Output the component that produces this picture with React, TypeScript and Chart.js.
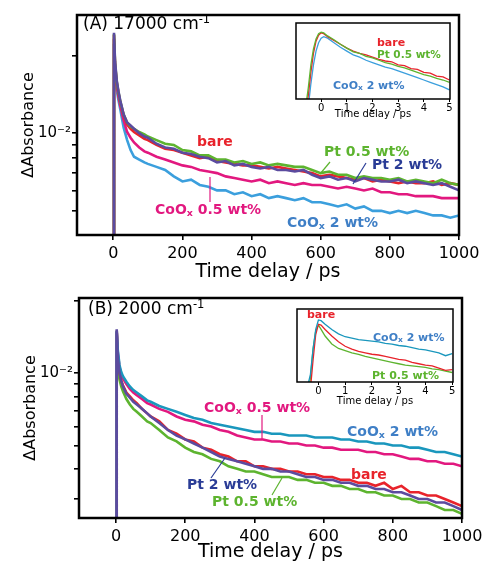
import React, { useEffect, useRef } from 'react';
import { Chart, registerables } from 'chart.js';

Chart.register(...registerables);

const FONT = '"DejaVu Sans", "Liberation Sans", Arial, sans-serif';

// ---------------- data: main panels ----------------
const delayPs = [0, 2, 5, 10, 15, 20, 30, 40, 50, 60, 75, 90,
  100, 125, 150, 175, 200, 225, 250, 275, 300, 325, 350, 375, 400, 425, 450, 475, 500,
  525, 550, 575, 600, 625, 650, 675, 700, 725, 750, 775, 800, 825, 850, 875, 900, 925, 950, 975, 1000];
const xTicksPs = [0, 200, 400, 600, 800, 1000];
const yTicksA = [0.005, 0.006, 0.007, 0.008, 0.009, 0.01, 0.02];
const yTicksB = [0.003, 0.004, 0.005, 0.006, 0.007, 0.008, 0.009, 0.01, 0.02];

// (A) 17000 cm-1
const aPt2 = [0.002, 0.0245, 0.019, 0.016, 0.0145, 0.0134, 0.0118, 0.011, 0.0107, 0.0104, 0.01, 0.0097,
  0.0096, 0.0091, 0.0088, 0.0087, 0.0084, 0.0083, 0.0081, 0.008, 0.0077, 0.0078, 0.0075, 0.0076, 0.0074,
  0.0073, 0.0074, 0.0072, 0.0072, 0.0071, 0.0072, 0.0069, 0.0067, 0.0068, 0.0066, 0.0067, 0.0065, 0.0067,
  0.0066, 0.0065, 0.0065, 0.0066, 0.0064, 0.0065, 0.0064, 0.0063, 0.0064, 0.0062, 0.006];
const aBare = [0.002, 0.024, 0.0185, 0.0157, 0.0143, 0.0132, 0.0117, 0.0108, 0.0104, 0.0101, 0.0098, 0.0095,
  0.0094, 0.009, 0.0087, 0.0086, 0.0084, 0.0082, 0.008, 0.0081, 0.0078, 0.0077, 0.0076, 0.0075, 0.0075,
  0.0074, 0.0073, 0.0074, 0.0073, 0.0072, 0.0071, 0.007, 0.0068, 0.0069, 0.0068, 0.0067, 0.0066, 0.0067,
  0.0065, 0.0066, 0.0065, 0.0064, 0.0065, 0.0064, 0.0064, 0.0065, 0.0063, 0.0064, 0.0063];
const aPt05 = [0.002, 0.0242, 0.0187, 0.0158, 0.0144, 0.0133, 0.0118, 0.011, 0.0106, 0.0104, 0.0101, 0.0099,
  0.0097, 0.0094, 0.0091, 0.009, 0.0086, 0.0085, 0.0082, 0.0082, 0.0079, 0.0079, 0.0077, 0.0078, 0.0076,
  0.0077, 0.0075, 0.0076, 0.0075, 0.0074, 0.0074, 0.0072, 0.007, 0.0071, 0.0069, 0.0069, 0.0067, 0.0068,
  0.0067, 0.0067, 0.0066, 0.0067, 0.0065, 0.0066, 0.0065, 0.0064, 0.0066, 0.0064, 0.0063];
const aCoOx05 = [0.002, 0.0232, 0.018, 0.0153, 0.0138, 0.0128, 0.0112, 0.0101, 0.0096, 0.0092, 0.0088, 0.0085,
  0.0084, 0.0081, 0.0079, 0.0077, 0.0075, 0.0074, 0.0072, 0.0071, 0.007, 0.0068, 0.0067, 0.0066, 0.0065,
  0.0066, 0.0064, 0.0065, 0.0064, 0.0063, 0.0064, 0.0063, 0.0063, 0.0062, 0.0061, 0.0062, 0.0061, 0.006,
  0.0061, 0.0059, 0.0059, 0.0058, 0.0058, 0.0057, 0.0057, 0.0057, 0.0056, 0.0056, 0.0056];
const aCoOx2 = [0.002, 0.0222, 0.0172, 0.0147, 0.0134, 0.0124, 0.0105, 0.0094, 0.0086, 0.0081, 0.0079, 0.0077,
  0.0076, 0.0074, 0.0072, 0.0068, 0.0065, 0.0066, 0.0063, 0.0062, 0.006, 0.006, 0.0058, 0.0059, 0.0057,
  0.0058, 0.0056, 0.0057, 0.0056, 0.0055, 0.0056, 0.0054, 0.0054, 0.0053, 0.0052, 0.0053, 0.0051, 0.0052,
  0.005, 0.005, 0.0049, 0.005, 0.0049, 0.005, 0.0049, 0.0048, 0.0048, 0.0047, 0.0048];

// (B) 2000 cm-1
const bPt2 = [0.001, 0.0152, 0.0118, 0.01, 0.0093, 0.0088, 0.0082, 0.0079, 0.0076, 0.0074, 0.0071, 0.0068,
  0.0066, 0.0062, 0.0058, 0.0055, 0.0053, 0.0051, 0.0049, 0.0047, 0.0045, 0.0044, 0.0043, 0.0042, 0.0041,
  0.004, 0.004, 0.0039, 0.0039, 0.0038, 0.0037, 0.0037, 0.0036, 0.0036, 0.0035, 0.0035, 0.0034, 0.0034,
  0.0033, 0.0033, 0.0032, 0.0032, 0.0031, 0.003, 0.003, 0.0029, 0.0029, 0.0028, 0.0027];
const bBare = [0.001, 0.015, 0.0118, 0.0101, 0.0093, 0.0089, 0.0083, 0.008, 0.0077, 0.0075, 0.0071, 0.0068,
  0.0066, 0.0063, 0.0058, 0.0056, 0.0053, 0.0052, 0.0049, 0.0048, 0.0046, 0.0045, 0.0043, 0.0043, 0.0041,
  0.0041, 0.004, 0.004, 0.0039, 0.0039, 0.0038, 0.0038, 0.0037, 0.0037, 0.0036, 0.0036, 0.0035, 0.0035,
  0.0034, 0.0035, 0.0033, 0.0034, 0.0032, 0.0032, 0.0031, 0.0031, 0.003, 0.0029, 0.0028];
const bPt05 = [0.001, 0.0148, 0.011, 0.0094, 0.0088, 0.0084, 0.0078, 0.0074, 0.0071, 0.0069, 0.0066, 0.0063,
  0.0062, 0.0058, 0.0054, 0.0052, 0.0049, 0.0047, 0.0046, 0.0044, 0.0043, 0.0041, 0.004, 0.0039, 0.0039,
  0.0038, 0.0037, 0.0037, 0.0037, 0.0036, 0.0036, 0.0035, 0.0035, 0.0034, 0.0034, 0.0033, 0.0033, 0.0032,
  0.0032, 0.0031, 0.0031, 0.003, 0.003, 0.0029, 0.0029, 0.0028, 0.0027, 0.0027, 0.0026];
const bCoOx2 = [0.001, 0.015, 0.0125, 0.0108, 0.0101, 0.0097, 0.0092, 0.0088, 0.0085, 0.0083, 0.008, 0.0077,
  0.0076, 0.0073, 0.0071, 0.0069, 0.0067, 0.0065, 0.0064, 0.0062, 0.0061, 0.006, 0.0059, 0.0058, 0.0057,
  0.0057, 0.0056, 0.0056, 0.0055, 0.0055, 0.0055, 0.0054, 0.0054, 0.0054, 0.0053, 0.0053, 0.0052, 0.0052,
  0.0051, 0.0051, 0.005, 0.005, 0.0049, 0.0049, 0.0048, 0.0047, 0.0047, 0.0046, 0.0045];
const bCoOx05 = [0.001, 0.0148, 0.0122, 0.0106, 0.0099, 0.0095, 0.009, 0.0086, 0.0083, 0.0081, 0.0078, 0.0075,
  0.0074, 0.0071, 0.0069, 0.0066, 0.0064, 0.0063, 0.0061, 0.006, 0.0058, 0.0057, 0.0055, 0.0054, 0.0053,
  0.0053, 0.0052, 0.0052, 0.0051, 0.0051, 0.005, 0.005, 0.0049, 0.0049, 0.0048, 0.0048, 0.0048, 0.0047,
  0.0047, 0.0046, 0.0046, 0.0045, 0.0044, 0.0044, 0.0043, 0.0043, 0.0042, 0.0042, 0.0041];

// ---------------- data: insets (normalised, 0–5 ps) ----------------
const insetDelayPs = [-0.6, -0.5, -0.4, -0.3, -0.2, -0.1, 0, 0.1, 0.25, 0.5, 0.75, 1, 1.25, 1.5, 1.75, 2,
  2.25, 2.5, 2.75, 3, 3.25, 3.5, 3.75, 4, 4.25, 4.5, 4.75, 5];
const insetTicks = [0, 1, 2, 3, 4, 5];

const iaBare = [-0.2, 0.05, 0.35, 0.6, 0.76, 0.84, 0.87, 0.86, 0.82, 0.77, 0.72, 0.67, 0.63, 0.6, 0.58, 0.55,
  0.52, 0.5, 0.49, 0.45, 0.44, 0.4, 0.39, 0.35, 0.34, 0.3, 0.29, 0.25];
const iaPt05 = [-0.1, 0.15, 0.45, 0.66, 0.79, 0.86, 0.88, 0.87, 0.83, 0.78, 0.72, 0.67, 0.62, 0.6, 0.56, 0.54,
  0.51, 0.48, 0.46, 0.43, 0.41, 0.38, 0.35, 0.32, 0.3, 0.27, 0.25, 0.22];
const iaCoOx2 = [-0.3, -0.1, 0.2, 0.45, 0.63, 0.74, 0.8, 0.82, 0.8, 0.74, 0.68, 0.63, 0.58, 0.55, 0.51, 0.48,
  0.45, 0.42, 0.4, 0.37, 0.34, 0.31, 0.28, 0.25, 0.22, 0.19, 0.16, 0.12];

const ibCoOx2 = [-0.3, -0.2, -0.05, 0.1, 0.45, 0.72, 0.85, 0.84, 0.79, 0.72, 0.66, 0.62, 0.6, 0.58, 0.57, 0.56,
  0.55, 0.53, 0.52, 0.5, 0.49, 0.47, 0.45, 0.44, 0.42, 0.4, 0.36, 0.39];
const ibBare = [-0.5, -0.4, -0.3, -0.1, 0.3, 0.65, 0.79, 0.78, 0.72, 0.63, 0.55, 0.49, 0.45, 0.42, 0.4, 0.38,
  0.37, 0.35, 0.33, 0.31, 0.3, 0.27, 0.25, 0.23, 0.22, 0.19, 0.16, 0.17];
const ibPt05 = [-0.5, -0.4, -0.2, 0.05, 0.45, 0.7, 0.78, 0.72, 0.63, 0.52, 0.46, 0.43, 0.4, 0.38, 0.35, 0.33,
  0.31, 0.29, 0.27, 0.25, 0.23, 0.22, 0.21, 0.2, 0.18, 0.17, 0.15, 0.13];

// ---------------- colours ----------------
const RED = '#e8232b';
const GREEN = '#5db42f';
const PURPLE = '#5b4b9f';
const PINK = '#e2187f';
const SKY = '#3b9fdd';
const TEAL = '#1a97bd';
const NAVY = '#2a3c96';
const BLUE_LABEL = '#3f7fc6';

type Seg = { t: string; sub?: boolean; sup?: boolean };
type Label = { segs: Seg[]; x: number; y: number; color: string; size: number; bold?: boolean };
type Pointer = { x1: number; y1: number; x2: number; y2: number; color: string };

const coox = (rest: string): Seg[] => [{ t: 'CoO' }, { t: 'x', sub: true }, { t: rest }];

// annotation positions are in page pixels
const labelsA: Label[] = [
  { segs: [{ t: '(A) 17000 cm' }, { t: '-1', sup: true }], x: 83, y: 25, color: '#000', size: 17 },
  { segs: [{ t: 'bare' }], x: 197, y: 142, color: RED, size: 14, bold: true },
  { segs: [{ t: 'Pt 0.5 wt%' }], x: 324, y: 152, color: GREEN, size: 14, bold: true },
  { segs: [{ t: 'Pt 2 wt%' }], x: 372, y: 165, color: NAVY, size: 14, bold: true },
  { segs: coox(' 0.5 wt%'), x: 155, y: 210, color: PINK, size: 14, bold: true },
  { segs: coox(' 2 wt%'), x: 287, y: 223, color: BLUE_LABEL, size: 14, bold: true },
];
const pointersA: Pointer[] = [
  { x1: 330, y1: 162, x2: 320, y2: 174, color: GREEN },
  { x1: 366, y1: 163, x2: 353, y2: 184, color: NAVY },
  { x1: 210, y1: 177, x2: 210, y2: 202, color: PINK },
];
const labelsB: Label[] = [
  { segs: [{ t: '(B) 2000 cm' }, { t: '-1', sup: true }], x: 88, y: 310, color: '#000', size: 17 },
  { segs: coox(' 0.5 wt%'), x: 204, y: 408, color: PINK, size: 14, bold: true },
  { segs: coox(' 2 wt%'), x: 347, y: 432, color: BLUE_LABEL, size: 14, bold: true },
  { segs: [{ t: 'bare' }], x: 351, y: 475, color: RED, size: 14, bold: true },
  { segs: [{ t: 'Pt 2 wt%' }], x: 187, y: 485, color: NAVY, size: 14, bold: true },
  { segs: [{ t: 'Pt 0.5 wt%' }], x: 212, y: 502, color: GREEN, size: 14, bold: true },
];
const pointersB: Pointer[] = [
  { x1: 262, y1: 415, x2: 262, y2: 440, color: PINK },
  { x1: 211, y1: 478, x2: 225, y2: 458, color: NAVY },
  { x1: 272, y1: 495, x2: 282, y2: 478, color: GREEN },
];
const labelsInsetA: Label[] = [
  { segs: [{ t: 'bare' }], x: 377, y: 43, color: RED, size: 11, bold: true },
  { segs: [{ t: 'Pt 0.5 wt%' }], x: 377, y: 55, color: GREEN, size: 10.5, bold: true },
  { segs: coox(' 2 wt%'), x: 333, y: 86, color: BLUE_LABEL, size: 11, bold: true },
];
const labelsInsetB: Label[] = [
  { segs: [{ t: 'bare' }], x: 307, y: 315, color: RED, size: 11, bold: true },
  { segs: coox(' 2 wt%'), x: 373, y: 338, color: BLUE_LABEL, size: 11, bold: true },
  { segs: [{ t: 'Pt 0.5 wt%' }], x: 372, y: 376, color: GREEN, size: 11, bold: true },
];

// ---------------- plugin: frame, pointers, labels ----------------
const overlayPlugin = {
  id: 'overlay',
  beforeDraw(chart: any, _a: any, opts: any) {
    if (!opts.fill) return;
    const { left, top, right, bottom } = chart.chartArea;
    const ctx = chart.ctx;
    ctx.save();
    ctx.fillStyle = '#fff';
    ctx.fillRect(left, top, right - left, bottom - top);
    ctx.restore();
  },
  afterDraw(chart: any, _a: any, opts: any) {
    const ctx = chart.ctx;
    const { left, top, right, bottom } = chart.chartArea;
    const ox = opts.ox || 0;
    const oy = opts.oy || 0;
    ctx.save();
    ctx.strokeStyle = '#000';
    ctx.lineWidth = opts.frameWidth;
    ctx.strokeRect(left, top, right - left, bottom - top);
    for (const p of opts.pointers || []) {
      ctx.beginPath();
      ctx.strokeStyle = p.color;
      ctx.lineWidth = 1.2;
      ctx.moveTo(p.x1 - ox, p.y1 - oy);
      ctx.lineTo(p.x2 - ox, p.y2 - oy);
      ctx.stroke();
    }
    ctx.textBaseline = 'middle';
    ctx.textAlign = 'left';
    for (const l of opts.labels || []) {
      let x = l.x - ox;
      const y = l.y - oy;
      ctx.fillStyle = l.color;
      for (const s of l.segs) {
        const small = s.sub || s.sup;
        const size = small ? l.size * 0.68 : l.size;
        ctx.font = `${l.bold ? 'bold ' : ''}${size}px ${FONT}`;
        const dy = s.sub ? l.size * 0.22 : s.sup ? -l.size * 0.32 : 0;
        ctx.fillText(s.t, x, y + dy);
        x += ctx.measureText(s.t).width;
      }
    }
    ctx.restore();
  },
};

function series(xs: number[], ys: number[], color: string, width: number) {
  return {
    data: xs.map((x, i) => ({ x, y: ys[i] })),
    borderColor: color,
    backgroundColor: color,
    borderWidth: width,
    pointRadius: 0,
    fill: false,
    tension: 0,
  };
}

type MainSpec = {
  datasets: any[];
  xMin: number;
  yMin: number;
  yMax: number;
  yTicks: number[];
  padding: any;
  axisWidth: number;
  axisHeight: number;
  titleBottom: number;
  labels: Label[];
  pointers: Pointer[];
  oy: number;
};

function mainConfig(s: MainSpec): any {
  const tickGrid = { display: true, drawOnChartArea: false, drawTicks: true, tickLength: 5, color: '#000', lineWidth: 1.6 };
  return {
    type: 'line',
    data: { datasets: s.datasets },
    plugins: [overlayPlugin],
    options: {
      responsive: false,
      animation: false,
      events: [],
      layout: { padding: s.padding },
      plugins: {
        legend: { display: false },
        tooltip: { enabled: false },
        overlay: { frameWidth: 2.5, labels: s.labels, pointers: s.pointers, ox: 0, oy: s.oy },
      },
      scales: {
        x: {
          type: 'linear',
          min: s.xMin,
          max: 1000,
          afterBuildTicks: (sc: any) => { sc.ticks = xTicksPs.map((v) => ({ value: v })); },
          afterFit: (sc: any) => { sc.height = s.axisHeight; },
          ticks: {
            color: '#000', font: { family: FONT, size: 16 }, padding: 4, maxRotation: 0, autoSkip: false,
            callback: (v: number) => String(v),
          },
          grid: tickGrid,
          border: { display: false },
          title: {
            display: true, text: 'Time delay / ps', color: '#000',
            font: { family: FONT, size: 19, lineHeight: 1 }, padding: { top: 0, bottom: s.titleBottom },
          },
        },
        y: {
          type: 'logarithmic',
          min: s.yMin,
          max: s.yMax,
          afterBuildTicks: (sc: any) => { sc.ticks = s.yTicks.map((v) => ({ value: v })); },
          afterFit: (sc: any) => { sc.width = s.axisWidth; },
          ticks: {
            color: '#000', font: { family: FONT, size: 15 }, padding: 1, autoSkip: false,
            callback: (v: number) => (Math.abs(v - 0.01) < 1e-9 ? '10⁻²' : ''),
          },
          grid: tickGrid,
          border: { display: false },
          title: {
            display: true, text: 'ΔAbsorbance', color: '#000',
            font: { family: FONT, size: 16, lineHeight: 1 }, padding: { top: s.axisWidth - 56, bottom: 0 },
          },
        },
      },
    },
  };
}

type InsetSpec = { datasets: any[]; xMin: number; xMax: number; padding: any; axisHeight: number; titleBottom: number; labels: Label[]; ox: number; oy: number };

function insetConfig(s: InsetSpec): any {
  return {
    type: 'line',
    data: { datasets: s.datasets },
    plugins: [overlayPlugin],
    options: {
      responsive: false,
      animation: false,
      events: [],
      layout: { padding: s.padding },
      plugins: {
        legend: { display: false },
        tooltip: { enabled: false },
        overlay: { frameWidth: 1.5, fill: true, labels: s.labels, pointers: [], ox: s.ox, oy: s.oy },
      },
      scales: {
        x: {
          type: 'linear', min: s.xMin, max: s.xMax,
          afterBuildTicks: (sc: any) => { sc.ticks = insetTicks.map((v) => ({ value: v })); },
          afterFit: (sc: any) => { sc.height = s.axisHeight; },
          ticks: {
            color: '#000', font: { family: FONT, size: 10 }, padding: 0, maxRotation: 0, autoSkip: false,
            callback: (v: number) => String(v),
          },
          grid: { display: true, drawOnChartArea: false, drawTicks: true, tickLength: 3, color: '#000', lineWidth: 1 },
          border: { display: false },
          title: {
            display: true, text: 'Time delay / ps', color: '#000',
            font: { family: FONT, size: 10, lineHeight: 1 }, padding: { top: 0, bottom: s.titleBottom },
          },
        },
        y: { type: 'linear', min: 0, max: 1, display: false },
      },
    },
  };
}

const makePanelA = () => mainConfig({
  datasets: [
    series(delayPs, aPt2, PURPLE, 2.6),
    series(delayPs, aPt05, GREEN, 2.6),
    series(delayPs, aBare, RED, 2.6),
    series(delayPs, aCoOx05, PINK, 2.6),
    series(delayPs, aCoOx2, SKY, 2.6),
  ],
  xMin: -105, yMin: 0.00403, yMax: 0.0287, yTicks: yTicksA,
  padding: { left: 0, top: 15, right: 33, bottom: 0 },
  axisWidth: 77, axisHeight: 48, titleBottom: 1.5,
  labels: labelsA, pointers: pointersA, oy: 0,
});

const makePanelB = () => mainConfig({
  datasets: [
    series(delayPs, bPt2, PURPLE, 2.6),
    series(delayPs, bCoOx2, TEAL, 2.6),
    series(delayPs, bCoOx05, PINK, 2.6),
    series(delayPs, bBare, RED, 2.6),
    series(delayPs, bPt05, GREEN, 2.6),
  ],
  xMin: -107, yMin: 0.0025, yMax: 0.0205, yTicks: yTicksB,
  padding: { left: 0, top: 18, right: 30, bottom: 0 },
  axisWidth: 79, axisHeight: 45, titleBottom: 1.5,
  labels: labelsB, pointers: pointersB, oy: 280,
});

const makeInsetA = () => insetConfig({
  datasets: [
    series(insetDelayPs, iaPt05, GREEN, 1.3),
    series(insetDelayPs, iaBare, RED, 1.3),
    series(insetDelayPs, iaCoOx2, SKY, 1.3),
  ],
  xMin: -0.98, xMax: 5.02,
  padding: { left: 8, top: 5, right: 12, bottom: 0 },
  axisHeight: 23, titleBottom: 3, labels: labelsInsetA, ox: 288, oy: 18,
});

const makeInsetB = () => insetConfig({
  datasets: [
    series(insetDelayPs, ibCoOx2, TEAL, 1.3),
    series(insetDelayPs, ibBare, RED, 1.3),
    series(insetDelayPs, ibPt05, GREEN, 1.3),
  ],
  xMin: -0.8, xMax: 5.03,
  padding: { left: 8, top: 5, right: 10, bottom: 0 },
  axisHeight: 24, titleBottom: 0, labels: labelsInsetB, ox: 289, oy: 304,
});

function ChartCanvas(props: { make: () => any; left: number; top: number; width: number; height: number }) {
  const ref = useRef<HTMLCanvasElement>(null);
  useEffect(() => {
    const chart = new Chart(ref.current as HTMLCanvasElement, props.make());
    return () => chart.destroy();
  }, []);
  return (
    <canvas
      ref={ref}
      width={props.width}
      height={props.height}
      style={{ position: 'absolute', left: props.left, top: props.top, width: props.width, height: props.height }}
    />
  );
}

export default function App() {
  return (
    <div style={{ position: 'absolute', left: 0, top: 0, width: 492, height: 563, background: '#fff' }}>
      <ChartCanvas make={makePanelA} left={0} top={0} width={492} height={283} />
      <ChartCanvas make={makePanelB} left={0} top={280} width={492} height={283} />
      <ChartCanvas make={makeInsetA} left={288} top={18} width={174} height={104} />
      <ChartCanvas make={makeInsetB} left={289} top={304} width={174} height={102} />
    </div>
  );
}
